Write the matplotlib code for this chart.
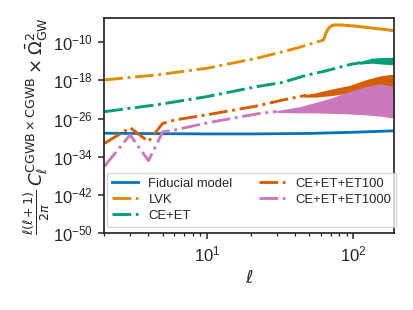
import numpy as np
import matplotlib
matplotlib.use("Agg")
import matplotlib.pyplot as plt
from matplotlib.ticker import FixedLocator, LogLocator, NullLocator

plt.rcParams['font.family'] = ['Liberation Sans', 'DejaVu Sans']
plt.rcParams['mathtext.fontset'] = 'dejavusans'
for k in ['axes.edgecolor', 'axes.labelcolor', 'xtick.color', 'ytick.color', 'text.color']:
    plt.rcParams[k] = '.15'

# ---- data (log10 of the plotted quantity) ----
fid_ell = [2, 3, 5, 10, 20, 50, 100, 189]
fid_log = [-29.05, -29.1, -29.15, -29.2, -29.2, -29.1, -28.85, -28.55]

lvk_ell = [2, 4.56, 10, 22, 41, 60, 62]
lvk_log = [-17.9, -16.85, -15.45, -13.35, -11.25, -9.7, -9.55]
lvk_hi_ell = [62, 63, 65, 68, 71, 74, 82, 100, 126, 160, 189]
lvk_hi_log = [-9.55, -9.3, -8.0, -7.0, -6.55, -6.4, -6.4, -6.6, -6.95, -7.3, -7.6]

ce_ell = [2, 4.56, 10, 22, 33, 48, 63, 97, 112]
ce_log = [-24.55, -23.1, -21.4, -19.3, -18.4, -16.9, -16.1, -14.6, -14.3]
ce_band_ell = [110, 133, 160, 189]
ce_band_hi = [-14.05, -13.35, -13.2, -13.15]
ce_band_lo = [-14.6, -14.4, -14.6, -14.75]

et100_ell = [2, 3, 4, 5, 6, 10, 22, 33, 48]
et100_log = [-31.2, -27.9, -30.8, -27.0, -26.3, -25.2, -23.35, -22.1, -21.1]
et100_band_ell = [46, 55, 70, 95, 120, 155, 189]
et100_band_hi = [-21.0, -20.6, -19.85, -19.0, -17.9, -17.0, -16.7]
et100_band_lo = [-21.5, -21.5, -21.2, -20.6, -19.6, -19.0, -19.6]

et1000_ell = [2, 3, 4, 5, 6, 10, 22, 30]
et1000_log = [-36.0, -29.4, -34.8, -28.8, -28.4, -26.9, -25.0, -24.5]
et1000_band_ell = [30, 43, 55, 70, 90, 120, 155, 189]
et1000_band_hi = [-24.3, -23.5, -22.6, -21.7, -20.5, -19.3, -18.7, -19.3]
et1000_band_lo = [-24.7, -24.8, -24.8, -24.9, -25.0, -25.2, -25.5, -25.9]

labels = ['Fiducial model', 'LVK', 'CE+ET', 'CE+ET+ET100', 'CE+ET+ET1000']
colors = ['#0173b2', '#de8f05', '#029e73', '#d55e00', '#cc78bc']

def p(v):
    return 10.0 ** np.asarray(v, dtype=float)

fig = plt.figure(figsize=(4.13, 3.10), dpi=100)
ax = fig.add_axes([104.3 / 413, 1 - 233.3 / 310, (394 - 104.3) / 413, (233.3 - 18.3) / 310])

lw = 2.1
ax.plot(fid_ell, p(fid_log), '-', color=colors[0], lw=2.0, label=labels[0])

ax.plot(lvk_ell, p(lvk_log), '-.', color=colors[1], lw=lw, label=labels[1])
ax.plot(lvk_hi_ell, p(lvk_hi_log), '-', color=colors[1], lw=2.2)

ax.plot(ce_ell, p(ce_log), '-.', color=colors[2], lw=lw, label=labels[2])
ax.fill_between(ce_band_ell, p(ce_band_lo), p(ce_band_hi), color=colors[2], lw=0)

ax.plot(et100_ell, p(et100_log), '-.', color=colors[3], lw=lw, label=labels[3])
ax.fill_between(et100_band_ell, p(et100_band_lo), p(et100_band_hi), color=colors[3], lw=0)

ax.plot(et1000_ell, p(et1000_log), '-.', color=colors[4], lw=lw, label=labels[4])
ax.fill_between(et1000_band_ell, p(et1000_band_lo), p(et1000_band_hi), color=colors[4], lw=0)

ax.set_xscale('log')
ax.set_yscale('log')
ax.set_xlim(2, 189)
ax.set_ylim(1e-50, 1e-5)
ax.yaxis.set_major_locator(FixedLocator([1e-50, 1e-42, 1e-34, 1e-26, 1e-18, 1e-10]))
ax.yaxis.set_minor_locator(NullLocator())
ax.xaxis.set_minor_locator(LogLocator(base=10, subs=np.arange(2, 10)))

for s in ax.spines.values():
    s.set_linewidth(1.25)
ax.tick_params(which='major', length=4.5, width=1.1, labelsize=12)
ax.tick_params(which='minor', length=2.5, width=0.9)

ax.set_xlabel(r'$\ell$', fontsize=13)
ax.set_ylabel(r'$\frac{\ell(\ell+1)}{2\pi}\,C_\ell^{\mathrm{CGWB}\times\mathrm{CGWB}}\times\bar{\Omega}^2_{\mathrm{GW}}$',
              fontsize=13, labelpad=1)

leg = ax.legend(ncol=2, loc='lower left', bbox_to_anchor=(0.008, 0.028), borderaxespad=0,
                fontsize=9.4, labelspacing=0.3, frameon=True)
leg.get_frame().set_edgecolor('.8')

fig.savefig('out.png', dpi=100)
